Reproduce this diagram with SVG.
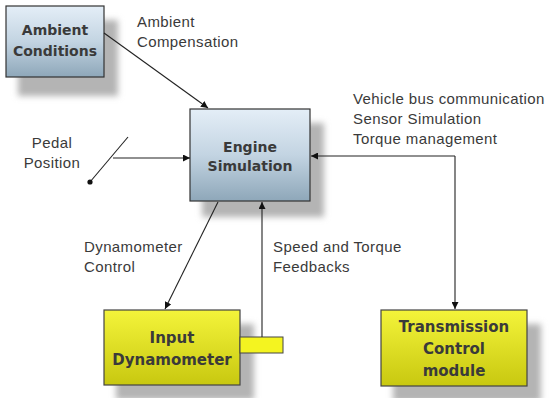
<svg xmlns="http://www.w3.org/2000/svg" width="552" height="398" viewBox="0 0 552 398">
<style>
.lbl{font-family:"Liberation Sans",Arial,sans-serif;font-size:15px;letter-spacing:0.4px;fill:#3a3a3a}
.bt{font-family:"DejaVu Sans",Verdana,sans-serif;font-weight:bold;fill:#3a3a3a;text-anchor:middle}
.s13{font-size:14px}
.s15{font-size:15px}
.blue{fill:url(#gb);stroke:#333;stroke-width:1.2}
.yel{fill:url(#gy);stroke:#444;stroke-width:1.2}
.sh{fill:#b4b4b4;filter:url(#blur)}
.ln{stroke:#222;stroke-width:1.1;fill:none}
</style>
<defs>
<linearGradient id="gb" x1="0" y1="0" x2="0" y2="1">
<stop offset="0" stop-color="#e4eef7"/>
<stop offset="0.5" stop-color="#c3d4e2"/>
<stop offset="1" stop-color="#8ea7b9"/>
</linearGradient>
<linearGradient id="gy" x1="0" y1="0" x2="0" y2="1">
<stop offset="0" stop-color="#f4f43a"/>
<stop offset="1" stop-color="#c8c810"/>
</linearGradient>
<filter id="blur" x="-20%" y="-20%" width="140%" height="140%"><feGaussianBlur stdDeviation="3"/></filter>
<marker id="ah" viewBox="0 0 10 10" refX="10" refY="5" markerWidth="7" markerHeight="7" markerUnits="userSpaceOnUse" orient="auto">
<path d="M0,0 L10,5 L0,10 z" fill="#111"/>
</marker>
</defs>

<g id="ambient">
<rect class="sh" x="18" y="20" width="100" height="76"/>
<rect class="blue" x="6" y="6" width="98" height="71"/>
<text class="bt s13" x="55" y="35">Ambient</text>
<text class="bt s13" x="55" y="56">Conditions</text>
</g>

<g id="engine">
<rect class="sh" x="202" y="123" width="122" height="94"/>
<rect class="blue" x="190" y="109" width="120" height="92"/>
<text class="bt s13" x="250" y="152">Engine</text>
<text class="bt s13" x="250" y="171">Simulation</text>
</g>

<g id="input">
<rect class="sh" x="116" y="324" width="138" height="76"/>
<rect class="yel" x="104" y="310" width="136" height="75"/>
<rect x="240" y="337" width="43" height="16" fill="#f4f420" stroke="#444" stroke-width="1"/>
<text class="bt s15" x="172" y="343">Input</text>
<text class="bt s15" x="172" y="365">Dynamometer</text>
</g>

<g id="transmission">
<rect class="sh" x="393" y="324" width="148" height="78"/>
<rect class="yel" x="381" y="310" width="146" height="76"/>
<text class="bt s15" x="454" y="332">Transmission</text>
<text class="bt s15" x="454" y="354">Control</text>
<text class="bt s15" x="454" y="376">module</text>
</g>

<g id="connectors">
<line class="ln" x1="104" y1="33" x2="208" y2="108" marker-end="url(#ah)"/>
<line class="ln" x1="90" y1="182" x2="128" y2="137"/>
<circle cx="90" cy="182" r="2.6" fill="#111"/>
<line class="ln" x1="113" y1="158" x2="190" y2="158" marker-end="url(#ah)"/>
<line class="ln" x1="455" y1="156" x2="311" y2="156" marker-end="url(#ah)"/>
<line class="ln" x1="455" y1="156" x2="455" y2="309" marker-end="url(#ah)"/>
<line class="ln" x1="262" y1="337" x2="262" y2="202" marker-end="url(#ah)"/>
<line class="ln" x1="218" y1="202" x2="165" y2="309" marker-end="url(#ah)"/>
</g>

<g id="labels">
<text class="lbl" x="137" y="27">Ambient</text>
<text class="lbl" x="137" y="47">Compensation</text>
<text class="lbl" x="52" y="148" text-anchor="middle">Pedal</text>
<text class="lbl" x="52" y="168" text-anchor="middle">Position</text>
<text class="lbl" x="353" y="104">Vehicle bus communication</text>
<text class="lbl" x="353" y="124">Sensor Simulation</text>
<text class="lbl" x="353" y="144">Torque management</text>
<text class="lbl" x="84" y="252">Dynamometer</text>
<text class="lbl" x="84" y="272">Control</text>
<text class="lbl" x="273" y="252">Speed and Torque</text>
<text class="lbl" x="273" y="272">Feedbacks</text>
</g>
</svg>
